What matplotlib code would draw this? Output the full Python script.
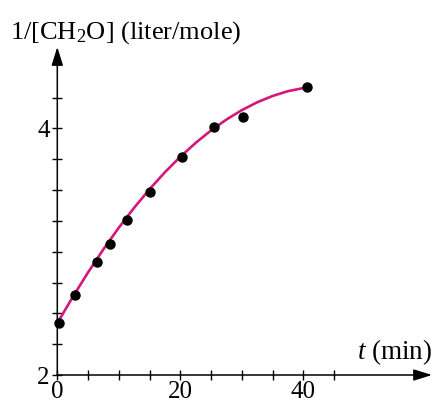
import matplotlib
matplotlib.use("Agg")
import matplotlib.pyplot as plt

plt.rcParams['font.family'] = ['Liberation Serif', 'DejaVu Serif']
plt.rcParams['mathtext.fontset'] = 'custom'
plt.rcParams['mathtext.rm'] = 'Liberation Serif'
plt.rcParams['mathtext.it'] = 'Liberation Serif:italic'

# measured points: time (min) and 1/[CH2O] (liter/mole)
t = [0.3, 2.8, 6.4, 8.6, 11.3, 15.1, 20.3, 25.5, 30.2, 40.6]
inv_conc = [2.42, 2.646, 2.92, 3.06, 3.255, 3.484, 3.766, 4.014, 4.092, 4.333]

# smooth curve drawn through the data
curve_t = [0, 2.5, 5, 7.5, 10, 12.5, 15, 17.5, 20, 22.5, 25, 27.5, 30, 32.5, 35, 37.5, 40.6]
curve_y = [2.42, 2.632, 2.832, 3.02, 3.195, 3.357, 3.507, 3.645, 3.77, 3.883, 3.984,
           4.072, 4.148, 4.212, 4.263, 4.302, 4.333]

xticks = [0, 5, 10, 15, 20, 25, 30, 35, 40, 45]
xlabels = ['0', '', '', '', '20', '', '', '', '40', '']
yticks = [2, 2.25, 2.5, 2.75, 3, 3.25, 3.5, 3.75, 4, 4.25]
ylabels = ['2', '', '', '', '', '', '', '', '4', '']

fig = plt.figure(figsize=(4.38, 4.04), dpi=100)
ax = fig.add_axes([57.3/438, 29/404, (432-57.3)/438, (375-47)/404])
ax.set_xlim(0, 60.9)
ax.set_ylim(2, 4.66)

ax.plot(curve_t, curve_y, color='#d4177c', lw=1.9, zorder=2)
ax.plot(t, inv_conc, 'o', color='black', ms=6.5, zorder=3, clip_on=False)

for s in ax.spines.values():
    s.set_visible(False)
ax.annotate('', xy=(1, 0), xytext=(0, 0), xycoords='axes fraction',
            arrowprops=dict(arrowstyle='-|>,head_width=0.25,head_length=0.8', color='black',
                            lw=1.1, mutation_scale=14, shrinkA=0, shrinkB=0))
ax.annotate('', xy=(0, 1), xytext=(0, 0), xycoords='axes fraction',
            arrowprops=dict(arrowstyle='-|>,head_width=0.25,head_length=0.8', color='black',
                            lw=1.1, mutation_scale=14, shrinkA=0, shrinkB=0))

ax.set_xticks(xticks)
ax.set_xticklabels(xlabels)
ax.set_yticks(yticks)
ax.set_yticklabels(ylabels)
ax.tick_params(direction='inout', length=7, width=1, labelsize=18, color='black')
ax.tick_params(axis='x', pad=1)
ax.tick_params(axis='y', pad=2)

fig.text(10/438, 1 - 33/404, '1/[CH$_\\mathregular{2}$O] (liter/mole)', fontsize=19,
         ha='left', va='center')
ax.text(1.0, 0.025, '$t$ (min)', transform=ax.transAxes, fontsize=19.5, ha='right', va='bottom')

fig.savefig('out.png', dpi=100)
